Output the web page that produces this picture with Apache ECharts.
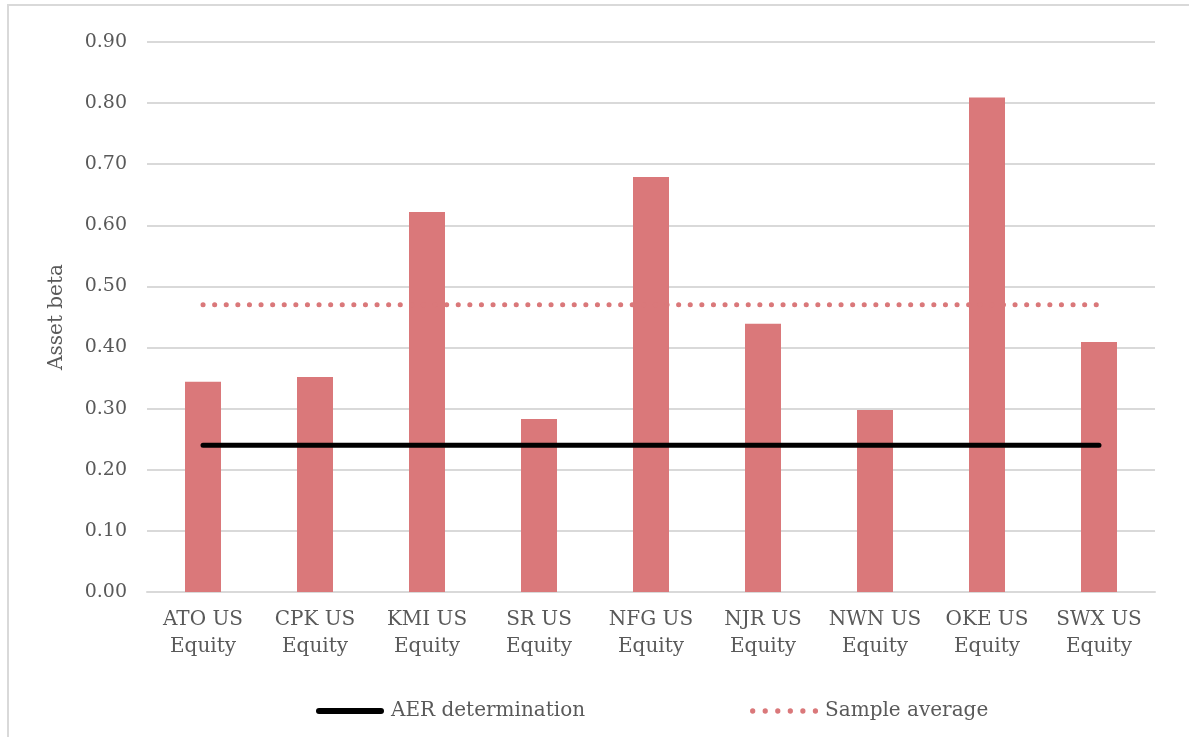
<!DOCTYPE html>
<html>
<head>
<meta charset="utf-8">
<script src="https://cdn.jsdelivr.net/npm/echarts@6/dist/echarts.min.js"></script>
<style>
  html, body { margin: 0; padding: 0; background: #fff; }
  #main { width: 1189px; height: 737px; }
</style>
</head>
<body>
<div id="main"></div>
<script>
// data
const categories = ['ATO US\nEquity', 'CPK US\nEquity', 'KMI US\nEquity', 'SR US\nEquity', 'NFG US\nEquity',
  'NJR US\nEquity', 'NWN US\nEquity', 'OKE US\nEquity', 'SWX US\nEquity'];
const assetBeta = [0.344, 0.352, 0.622, 0.283, 0.679, 0.439, 0.298, 0.809, 0.409];
const aerDetermination = [0.24, 0.24, 0.24, 0.24, 0.24, 0.24, 0.24, 0.24, 0.24];
const sampleAverage = [0.47, 0.47, 0.47, 0.47, 0.47, 0.47, 0.47, 0.47, 0.47];

const font = "Georgia, 'DejaVu Serif', 'Liberation Serif', serif";
const textColor = '#595959';
const barColor = '#DA787A';

// legend icons: a solid bar and a row of dots
const solidIcon = 'path://M3,0 H65 A3,3 0 0,1 65,6 H3 A3,3 0 0,1 3,0 Z';
let dotIcon = 'path://';
for (let i = 0; i < 6; i++) {
  const cx = 3 + i * 12.4;
  dotIcon += `M${cx - 2.6},3 A2.6,2.6 0 1,1 ${cx + 2.6},3 A2.6,2.6 0 1,1 ${cx - 2.6},3 Z `;
}

const chart = echarts.init(document.getElementById('main'));
chart.setOption({
  animation: false,
  textStyle: { fontFamily: font, color: textColor },
  graphic: [{
    type: 'polyline',
    shape: { points: [[1189, 5], [8, 5], [8, 737]] },
    style: { stroke: '#d9d9d9', lineWidth: 2, fill: null },
    silent: true
  }],
  grid: { left: 147, right: 34, top: 42, bottom: 145 },
  legend: {
    bottom: 11,
    left: 311,
    itemGap: 165,
    itemWidth: 68,
    itemHeight: 6,
    textStyle: { fontFamily: font, color: textColor, fontSize: 20, padding: [0, 0, 0, 2] },
    data: [
      { name: 'AER determination', icon: solidIcon, itemStyle: { color: '#000' } },
      { name: 'Sample average', icon: dotIcon, itemStyle: { color: barColor } }
    ]
  },
  xAxis: {
    type: 'category',
    data: categories,
    boundaryGap: true,
    axisLine: { lineStyle: { color: '#d9d9d9', width: 2 } },
    axisTick: { show: false },
    axisLabel: { interval: 0, fontFamily: font, color: textColor, fontSize: 20, lineHeight: 27, margin: 14 }
  },
  yAxis: {
    type: 'value',
    min: 0,
    max: 0.9,
    interval: 0.1,
    name: 'Asset beta',
    nameLocation: 'middle',
    nameGap: 80,
    nameTextStyle: { fontFamily: font, color: textColor, fontSize: 20 },
    axisLine: { show: false },
    axisTick: { show: false },
    axisLabel: { fontFamily: font, color: textColor, fontSize: 19, margin: 20, formatter: v => v.toFixed(2) },
    splitLine: { lineStyle: { color: '#d9d9d9', width: 2 } }
  },
  series: [
    {
      name: 'Asset beta',
      type: 'bar',
      data: assetBeta,
      barWidth: 36,
      itemStyle: { color: barColor }
    },
    {
      name: 'AER determination',
      type: 'line',
      data: aerDetermination,
      symbol: 'none',
      lineStyle: { color: '#000', width: 5, cap: 'round' },
      itemStyle: { color: '#000' },
      z: 3
    },
    {
      name: 'Sample average',
      type: 'line',
      data: sampleAverage,
      symbol: 'none',
      lineStyle: { color: barColor, width: 5, type: [0.1, 11.5], cap: 'round' },
      itemStyle: { color: barColor },
      z: 3
    }
  ]
});
</script>
</body>
</html>
